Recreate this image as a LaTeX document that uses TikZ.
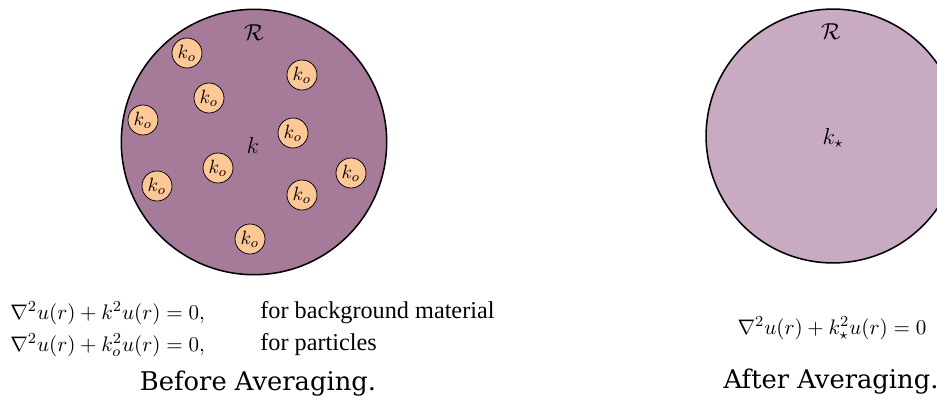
\documentclass[tikz,border=0pt]{standalone}
\usepackage{amsmath,amssymb}
\usepackage{fontspec}
\setmainfont{Liberation Serif}
\newfontfamily\capfont{DejaVu Serif}
\usetikzlibrary{shapes}
\definecolor{bgmat}{RGB}{166,123,154}
\definecolor{effmat}{RGB}{200,170,194}
\definecolor{grain}{RGB}{253,200,150}

\begin{document}
\begin{tikzpicture}[x=0.52pt, y=-0.52pt,
    region/.style={circle, draw, thick, inner sep=0pt},
    particle/.style={circle, draw, fill=grain, inner sep=0pt, minimum size=15.6pt},
    eqn/.style={inner sep=0pt, font=\fontsize{11.3}{13}\selectfont},
    words/.style={inner sep=0pt, font=\fontsize{12.6}{14}\selectfont},
    caption/.style={inner sep=0pt, font=\capfont\fontsize{13.4}{16}\selectfont}]
    \useasboundingbox (0,0) rectangle (937,403);
    % before averaging
    \node[region, fill=bgmat, minimum size=138pt] (before) at (254,142) {};
    \path (254,33) node (Rb) {\large $\mathcal{R}$};
    \path (253,145) node (kb) {\large $k$};
    \foreach \x/\y [count=\i] in {187/53, 302/75, 209/98, 143/120, 293/133,
                                  218/168, 157/186, 351/173, 302/195, 250/239}
      \node[particle] (p\i) at (\x,\y) {$k_o$};
    % after averaging
    \node[region, fill=effmat, minimum size=132pt] (after) at (833,136) {};
    \path (831,32) node (Ra) {\large $\mathcal{R}$};
    \path (833,138) node (ka) {\large $k_\star$};
    % equations
    \path (10,313) node[eqn, right] (eqb) {$\nabla^2 u(r) + k^2 u(r) = 0,$};
    \path (260,313) node[words, right] (txtb) {for background material};
    \path (10,345) node[eqn, right] (eqp) {$\nabla^2 u(r) + k_o^2 u(r) = 0,$};
    \path (260,345) node[words, right] (txtp) {for particles};
    \path (832,328) node[eqn] (eqa) {$\nabla^2 u(r) + k_\star^2 u(r) = 0$};
    \path (258,384) node[caption] (capb) {Before Averaging.};
    \path (831,382) node[caption] (capa) {After Averaging.};
\end{tikzpicture}
\end{document}
